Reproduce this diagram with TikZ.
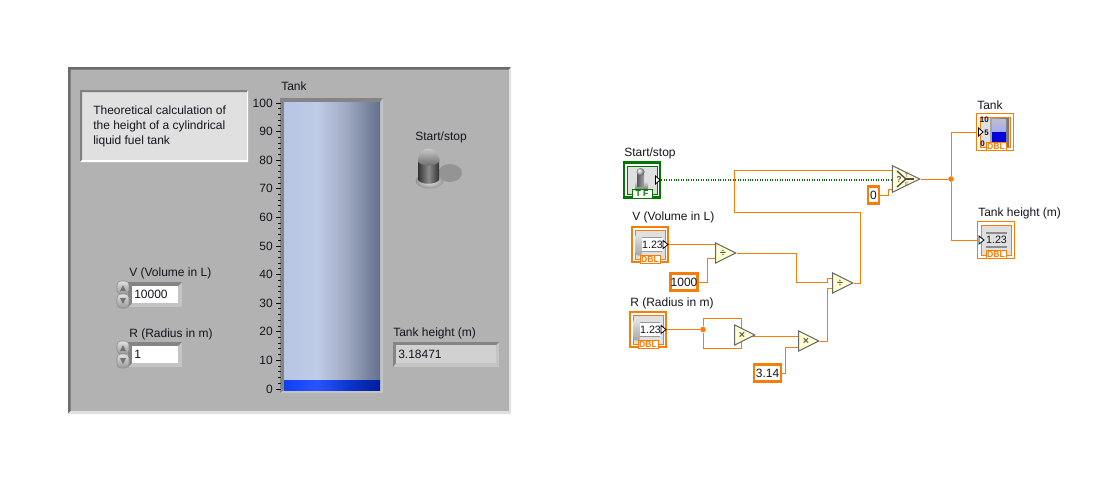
\documentclass[tikz,border=0pt]{standalone}
\usepackage{fontspec}
\setmainfont{Liberation Sans}
\setsansfont{Liberation Sans}
\usetikzlibrary{
  arrows.meta,
  positioning,
  shapes.geometric,
  calc,
  backgrounds
}
\definecolor{wireor}{RGB}{245,125,10}
\definecolor{wiregr}{RGB}{0,120,0}
\definecolor{panel}{RGB}{178,178,178}
\definecolor{paleop}{RGB}{255,255,210}
\definecolor{ticol}{RGB}{20,20,30}
\pgfdeclarehorizontalshading{tankglass}{100bp}{rgb(0bp)=(0.72,0.77,0.89);
  rgb(25bp)=(0.72,0.77,0.89);rgb(42bp)=(0.75,0.80,0.91);
  rgb(57bp)=(0.63,0.67,0.77);rgb(75bp)=(0.39,0.44,0.55);
  rgb(100bp)=(0.39,0.44,0.55)}
\pgfdeclarehorizontalshading{tankfluid}{100bp}{rgb(0bp)=(0.06,0.25,0.94);
  rgb(25bp)=(0.06,0.25,0.94);rgb(42bp)=(0.16,0.33,1);
  rgb(57bp)=(0.06,0.22,0.82);rgb(75bp)=(0,0.11,0.61);
  rgb(100bp)=(0,0.11,0.61)}

\begin{document}
\begin{tikzpicture}[
  x=0.75pt, y=-0.75pt,
  every node/.style={font=\fontsize{9}{11.25}\selectfont, text=ticol, inner sep=0pt},
  flabel/.style={anchor=west},
  scalenum/.style={anchor=east},
  fieldbox/.style={fill=white, anchor=north west},
  wire/.style={draw=wireor, line width=0.75pt},
  booldot/.style={draw=wiregr, line width=0.8pt, dash pattern=on 0.75pt off 1.1pt},
  optri/.style={draw=black!60, fill=paleop, line width=0.75pt, isosceles triangle,
    isosceles triangle stretches, shape border rotate=0, anchor=apex,
    minimum width=15pt, minimum height=15pt},
  opsym/.style={font=\fontsize{8}{8}\selectfont\bfseries, text=black!65},
  junction/.style={circle, fill=wireor, minimum size=4.2pt},
  constbox/.style={draw=wireor, line width=1.9pt, fill=white, minimum height=12.5pt,
    font=\fontsize{9}{10}\selectfont},
  termbox/.style={draw=wireor, line width=1.8pt, fill=white, minimum width=27pt, minimum height=26.5pt},
  indbox/.style={draw=wireor, line width=1.2pt, fill=white, minimum width=27.5pt, minimum height=27.5pt},
  typetag/.style={draw=wireor, line width=0.6pt, fill=white, text=wireor, minimum width=15pt, minimum height=6.5pt,
    font=\fontsize{6.5}{6.5}\selectfont\bfseries},
  tiparrow/.style={draw=black, fill=white, line width=0.6pt}
]
\useasboundingbox (0,0) rectangle (1120,480);

% front panel
\fill[panel] (68,67) rectangle (511,413);
\fill[black!58] (68,67) -- (511,67) -- (509,69.5) -- (70.5,69.5) -- (70.5,411) -- (68,413) -- cycle;
\fill[black!12] (511,67) -- (511,414) -- (68,414) -- (70.5,411) -- (509,411) -- (509,69.5) -- cycle;

% note
\fill[black!12] (80,90) rectangle (248,162);
\fill[black!50] (80,90) -- (248,90) -- (247,92) -- (82,92) -- (82,160) -- (80,162) -- cycle;
\fill[white] (248,90) -- (248,162) -- (80,162) -- (82,160) -- (247,160) -- (247,92) -- cycle;
\node[flabel, align=left] (noteText) at (93,126) {Theoretical calculation of\\the height of a cylindrical\\liquid fuel tank};

% tank
\fill[black!23] (280,98) rectangle (383,393);
\fill[black!48] (280,98) -- (383,98) -- (380,102) -- (284,102) -- (284,390) -- (280,393) -- cycle;
\shade[shading=tankglass] (284,102) rectangle (380,380);
\shade[shading=tankfluid] (284,380) rectangle (380,390);
\node[flabel] (tankLabel) at (281,86) {Tank};
\foreach \v in {0,10,...,100}{
  \node[scalenum] (scale\v) at (273,{389-2.86*\v}) {\v};
  \draw[black, line width=0.75pt] (276,{389-2.86*\v}) -- (281,{389-2.86*\v});
}
\foreach \v in {0,2,...,100}{
  \draw[black, line width=0.75pt] (278,{389-2.86*\v}) -- (281,{389-2.86*\v});
}

% start/stop switch
\node (startLabel) at (441,137) {Start/stop};
\fill[black!42] (450,173) ellipse (12 and 9);
\shade[inner color=black!8, outer color=black!42] (429.5,181) ellipse (14 and 7.5);
\shade[left color=black!80, right color=black!80, middle color=black!45] (418,158) -- (439,158) -- (439,180) .. controls (435,185) and (422,185) .. (418,180) -- cycle;
\shade[top color=black!12, bottom color=black!60] (418,162) .. controls (417,144) and (440,144) .. (439,162) .. controls (433,167) and (424,167) .. (418,162) -- cycle;

% numeric controls
\node[flabel] (vLabel) at (129,273) {V (Volume in L)};
\node[flabel] (rLabel) at (129,334) {R (Radius in m)};
\foreach \fy/\fv in {282/10000,342/1}{
  \fill[black!23] (128,\fy) rectangle (182,\fy+25);
  \fill[black!48] (128,\fy) -- (182,\fy) -- (178,\fy+4) -- (132,\fy+4) -- (132,\fy+21) -- (128,\fy+25) -- cycle;
  \node[fieldbox, minimum width=34.5pt, minimum height=12.75pt] (field\fv) at (132,\fy+4) {};
  \node[flabel] (value\fv) at (134,\fy+12.5) {\fv};
  \shade[top color=black!12, bottom color=black!40, draw=black!45, line width=0.4pt, rounded corners=3pt] (117,\fy-1) rectangle (129,\fy+12);
  \shade[top color=black!12, bottom color=black!40, draw=black!45, line width=0.4pt, rounded corners=3pt] (117,\fy+12) rectangle (129,\fy+26);
  \fill[black!55] (123,\fy+3) -- (120,\fy+9) -- (126,\fy+9) -- cycle;
  \fill[black!55] (123,\fy+22) -- (120,\fy+16) -- (126,\fy+16) -- cycle;
}

% indicator
\node[flabel] (hLabel) at (393,333) {Tank height (m)};
\fill[black!23] (393,342) rectangle (499,367);
\fill[black!48] (393,342) -- (499,342) -- (496,345) -- (396,345) -- (396,363) -- (393,367) -- cycle;
\fill[black!18] (396,345) rectangle (496,363);
\node[flabel] (hValue) at (398,354.5) {3.18471};

% block diagram terminals
\node[anchor=west] (swLabel) at (624,153) {Start/stop};
\node[anchor=west] (vTermLabel) at (632,217) {V (Volume in L)};
\node[anchor=west] (rTermLabel) at (630,303) {R (Radius in m)};
\node[anchor=west] (tankTermLabel) at (977,105) {Tank};
\node[anchor=west] (hTermLabel) at (978,213) {Tank height (m)};

\node[termbox, draw=wiregr] (swTerm) at (642,180) {};
\node[termbox] (vTerm) at (650,244.5) {};
\node[termbox] (rTerm) at (648,329.5) {};
\node[indbox] (tankTerm) at (995,132) {};
\node[indbox] (hTerm) at (996,240) {};

\draw[wiregr, fill=black!12, line width=0.6pt] (627,166) rectangle (657,194);
\shade[top color=black!15, bottom color=black!45] (635,182) rectangle (648,188);
\shade[left color=black!65, right color=black!35] (637,172) rectangle (644,186);
\shade[ball color=black!20] (640.5,172) circle (4);
\node[typetag, draw=wiregr, text=wiregr] (swTag) at (642,194) {T F};
\draw[tiparrow] (655.5,176) -- (660,180) -- (655.5,184) -- cycle;

\foreach \cx/\cy/\cn in {650/244.5/v,648/329.5/r}{
  \draw[wireor, fill=black!12, line width=0.6pt] (\cx-15,\cy-14.5) rectangle (\cx+15,\cy+14.5);
  \fill[black!40] (\cx-8,\cy-7.5) rectangle (\cx+12,\cy+7.5);
  \shade[top color=black!10, bottom color=black!35, rounded corners=2pt] (\cx-14.5,\cy-11) rectangle (\cx-8,\cy+11);
  \node[fill=white, minimum width=14pt, minimum height=9.5pt, font=\fontsize{8}{8}\selectfont] (icon\cn) at (\cx+2.5,\cy) {1.23};
  \draw[tiparrow] (\cx+13,\cy-4) -- (\cx+18,\cy) -- (\cx+13,\cy+4) -- cycle;
  \node[typetag] (tag\cn) at (\cx,\cy+15) {DBL};
}

\draw[wireor, fill=black!12, line width=0.6pt] (980,117) rectangle (1010,147);
\shade[left color=black!35, right color=black!55] (990,118) rectangle (1009,146);
\shade[top color=blue!20!black!25, bottom color=blue!35!white] (992,119) rectangle (1006,132);
\fill[blue!85!black] (992,132) rectangle (1006,145);
\node[scalenum, font=\fontsize{6}{6}\selectfont\bfseries] (tankTick10) at (989,120) {10};
\node[scalenum, font=\fontsize{6}{6}\selectfont\bfseries] (tankTick5) at (989,132.5) {5};
\node[scalenum, font=\fontsize{6}{6}\selectfont\bfseries] (tankTick0) at (985,144) {0};
\draw[tiparrow] (978.5,128) -- (983,132) -- (978.5,136) -- cycle;
\node[typetag] (tankTag) at (996,146.5) {DBL};

\draw[wireor, fill=black!12, line width=0.6pt] (981,225) rectangle (1011,255);
\fill[black!45] (986,232) rectangle (1007,248);
\node[fill=black!12, minimum width=13.5pt, minimum height=9.5pt, font=\fontsize{8}{8}\selectfont] (hIcon) at (996.5,240) {1.23};
\draw[tiparrow] (979,236) -- (984,240) -- (979,244) -- cycle;
\node[typetag] (hTag) at (996,254.5) {DBL};

% constants
\node[constbox, minimum width=20.5pt] (kThousand) at (684,282) {1000};
\node[constbox, minimum width=20.5pt] (kPi) at (767.5,373) {3.14};
\node[constbox, minimum width=8pt] (kZero) at (873.5,195) {0};

% operators
\node[optri] (div1) at (737,253) {};
\node[optri] (div2) at (854,283) {};
\node[optri] (mul1) at (756,335) {};
\node[optri] (mul2) at (820,341) {};
\node[optri, minimum width=20pt, minimum height=20.5pt] (sel) at (921,179) {};
\node[opsym] (div1Sym) at (723,253) {÷};
\node[opsym] (div2Sym) at (840,283) {÷};
\node[opsym] (mul1Sym) at (742,335.5) {×};
\node[opsym] (mul2Sym) at (806,341.5) {×};
\node[opsym, font=\fontsize{6.5}{6.5}\selectfont\bfseries] (selSym) at (899,179) {?};
\draw[black!70, line width=1pt] (897,171) -- (906,179) -- (897,187);
\draw[black!70, line width=1.8pt] (906,179) -- (914,179);
\node[opsym, font=\fontsize{4.5}{4.5}\selectfont] (selT) at (907,175) {T};
\node[opsym, font=\fontsize{4.5}{4.5}\selectfont] (selF) at (907,184) {F};

% junctions
\node[junction] (rJoin) at (703,329.5) {};
\node[junction] (outJoin) at (951,179) {};

\coordinate (div1a) at (716,244.5);
\coordinate (div1b) at (716,258);
\coordinate (div2a) at (833,278);
\coordinate (div2b) at (833,288);
\coordinate (mul1a) at (741,330);
\coordinate (mul1b) at (741,336);
\coordinate (mul1out) at (752,336.5);
\coordinate (mul2a) at (799,336.5);
\coordinate (mul2b) at (799,347);
\coordinate (sela) at (895,170);
\coordinate (selb) at (895,180);
\coordinate (selc) at (895,189);

\begin{scope}[on background layer]
\draw[booldot] (swTerm.east) -- (selb);
\draw[wire] (vTerm.east |- div1a) -- (div1a);
\draw[wire] (kThousand.east) -| (707,258) -- (div1b);
\draw[wire] (div1.apex) -| (796,282) -| (827,278) -- (div2a);
\draw[wire] (rTerm.east) -- (rJoin);
\draw[wire] (rJoin) |- (741,318) -- (mul1a);
\draw[wire] (rJoin) |- (741,348) -- (mul1b);
\draw[wire] (mul1out) -- (mul2a);
\draw[wire] (kPi.east) -| (785,347) -- (mul2b);
\draw[wire] (mul2.apex) -| (827,288) -- (div2b);
\draw[wire] (div2.apex) -| (860,212) -| (734,170) -- (sela);
\draw[wire] (kZero.east) -| (888,189) -- (selc);
\draw[wire] (sel.apex) -- (outJoin);
\draw[wire] (outJoin) |- (tankTerm.west);
\draw[wire] (outJoin) |- (hTerm.west);
\end{scope}

\end{tikzpicture}
\end{document}
